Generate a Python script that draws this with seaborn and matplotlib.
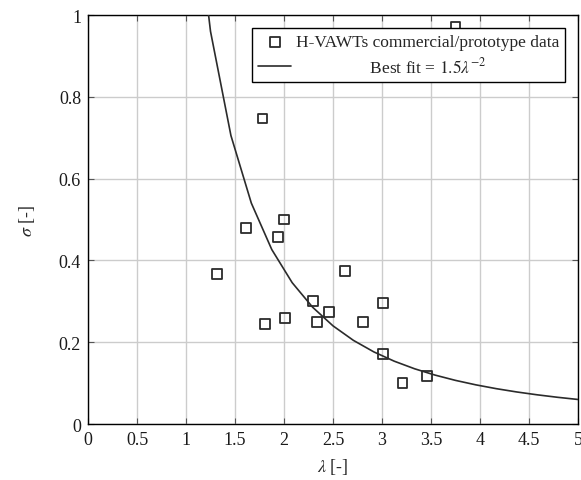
import numpy as np
import pandas as pd
import matplotlib
matplotlib.use("Agg")
import matplotlib.pyplot as plt
import seaborn as sns

# H-VAWTs commercial/prototype data
lam = [1.32, 1.61, 1.78, 1.81, 1.94, 2.00, 2.01, 2.30, 2.34, 2.46,
       2.62, 2.81, 3.01, 3.01, 3.21, 3.46, 3.75]
sigma = [0.367, 0.480, 0.747, 0.245, 0.458, 0.500, 0.260, 0.300, 0.249, 0.274,
         0.374, 0.249, 0.296, 0.171, 0.101, 0.117, 0.970]

# best fit sigma = 1.5 * lambda^-2
fit_coef = 1.5
fit_exp = -2
lam_fit = np.linspace(0, 5, 25)[1:]
sigma_fit = fit_coef * lam_fit ** fit_exp

x_ticks = [0, 0.5, 1, 1.5, 2, 2.5, 3, 3.5, 4, 4.5, 5]
x_tick_labels = ["0", "0.5", "1", "1.5", "2", "2.5", "3", "3.5", "4", "4.5", "5"]
y_ticks = [0, 0.2, 0.4, 0.6, 0.8, 1]
y_tick_labels = ["0", "0.2", "0.4", "0.6", "0.8", "1"]

df = pd.DataFrame({"lam": lam, "sigma": sigma})
fit_df = pd.DataFrame({"lam": lam_fit, "sigma": sigma_fit})

sns.set_theme(style="whitegrid")
plt.rcParams["font.family"] = ["Liberation Serif", "DejaVu Serif"]
plt.rcParams["mathtext.fontset"] = "stix"

fig = plt.figure(figsize=(5.81, 4.81), dpi=100)
ax = fig.add_axes([0.1515, 0.1164, 0.8433, 0.8503])

ink = "#2b2b2b"
sns.lineplot(data=fit_df, x="lam", y="sigma", ax=ax, color=ink, linewidth=1.2,
             label=" " * 17 + r"Best fit = $1.5\lambda^{-2}$", zorder=3)
sns.scatterplot(data=df, x="lam", y="sigma", ax=ax, marker="s", s=50,
                facecolor="none", edgecolor=ink, linewidth=1.3,
                label="H-VAWTs commercial/prototype data", zorder=4)

ax.set_xlim(0, 5)
ax.set_ylim(0, 1)
ax.set_xticks(x_ticks)
ax.set_xticklabels(x_tick_labels)
ax.set_yticks(y_ticks)
ax.set_yticklabels(y_tick_labels)
ax.set_xlabel(r"$\lambda$ [-]", fontsize=13, labelpad=6)
ax.set_ylabel(r"$\sigma$ [-]", fontsize=13, labelpad=16)

ax.grid(True, color="#cccccc", linewidth=1.0)
for sp in ax.spines.values():
    sp.set_color("black")
    sp.set_linewidth(1.0)
ax.tick_params(axis="both", which="both", direction="in", length=4, width=0.8,
               color="#555555", labelsize=13, labelcolor="#1a1a1a",
               top=True, right=True, bottom=True, left=True, pad=5)

h, l = ax.get_legend_handles_labels()
leg = ax.legend(h[::-1], l[::-1], loc="upper right", fontsize=12.5,
                frameon=True, fancybox=False, framealpha=1, edgecolor="black",
                borderaxespad=0.75, handlelength=1.9, handletextpad=0.25,
                labelspacing=0.35, borderpad=0.35)
leg.get_frame().set_linewidth(1.0)
leg.set_zorder(10)

fig.savefig("out.png", dpi=100)
plt.close(fig)
